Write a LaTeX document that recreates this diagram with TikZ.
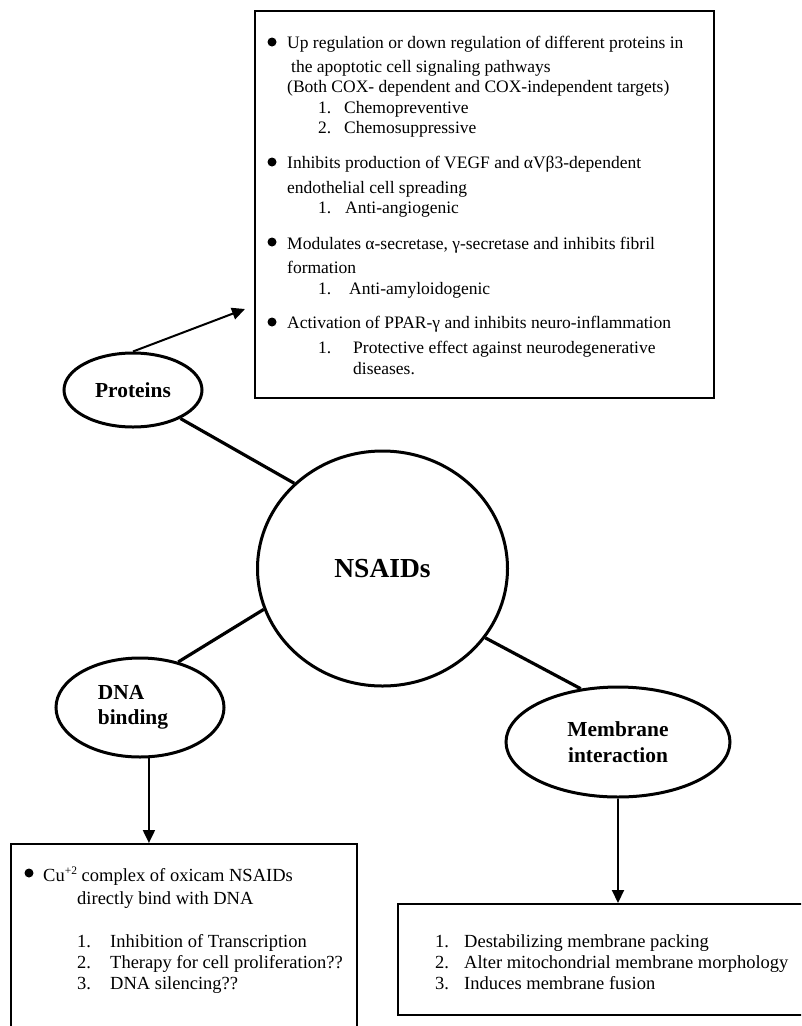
\documentclass[tikz,border=0pt]{standalone}
\usepackage{fontspec}
\setmainfont{Liberation Serif}
\usetikzlibrary{arrows.meta,shapes.geometric}
\begin{document}
\begin{tikzpicture}[x=1pt,y=-1pt,
  conn/.style={line width=3.2pt},
  arr/.style={line width=2pt,-{Triangle[width=12pt,length=13pt]}},
  bubble/.style={draw,ellipse,line width=3pt,inner sep=0pt,align=center,
    font=\bfseries\fontsize{21.4}{25.5}\selectfont},
  box/.style={draw,rectangle,line width=1.8pt,inner sep=0pt},
  txt/.style={anchor=base west,inner sep=0pt,font=\fontsize{17.5}{21}\selectfont},
  btxt/.style={anchor=base west,inner sep=0pt,font=\fontsize{18.5}{21}\selectfont},
  dot/.style={circle,fill,inner sep=0pt,minimum size=9pt}]
\useasboundingbox (0,0) rectangle (801,1026);
\clip (0,0) rectangle (801,1026);

% boxes
\node[box,anchor=north west,minimum width=459pt,minimum height=387pt] (pbox) at (254,10) {};
\node[box,anchor=north west,minimum width=346pt,minimum height=190pt] (dbox) at (10,843) {};
\node[box,anchor=north west,minimum width=410pt,minimum height=111pt] (mbox) at (397,903) {};

% ellipses
\node[bubble,minimum width=250pt,minimum height=235pt,font=\bfseries\fontsize{27.5}{30}\selectfont] (ns) at (382.5,568.5) {NSAIDs};
\node[bubble,minimum width=138pt,minimum height=74pt] (prot) at (133,390) {Proteins};
\node[bubble,minimum width=168pt,minimum height=99pt,align=left] (dna) at (140,707.5) {DNA\\binding\hspace*{14pt}};
\node[bubble,minimum width=224pt,minimum height=110pt] (mem) at (618,742) {Membrane\\interaction};

% connectors
\draw[conn] (prot.-31) -- (ns.136);
\draw[conn] (dna.50) -- (ns.199);
\draw[conn] (ns.-34) -- (mem.125);
\coordinate (ptip) at (245,309);
\draw[arr] (prot.north) -- (ptip);
\draw[arr] (dna.-80) -- (dna.-80 |- dbox.north);
\draw[arr] (mem.south) -- (mem.south |- mbox.north);

% top box text
\node[dot] (b1) at (272,42) {};
\node[txt] (t1) at (287,48) {Up regulation or down regulation of different proteins in};
\node[txt] (t2) at (291,72) {the apoptotic cell signaling pathways};
\node[txt] (t3) at (287,92) {(Both COX- dependent and COX-independent targets)};
\node[txt] (t4n) at (318,113) {1.};
\node[txt] (t4) at (344,113) {Chemopreventive};
\node[txt] (t5n) at (318,133) {2.};
\node[txt] (t5) at (344,133) {Chemosuppressive};
\node[dot] (b2) at (272,162) {};
\node[txt] (t6) at (287,168) {Inhibits production of VEGF and αVβ3-dependent};
\node[txt] (t7) at (287,193) {endothelial cell spreading};
\node[txt] (t8n) at (318,213) {1.};
\node[txt] (t8) at (345,213) {Anti-angiogenic};
\node[dot] (b3) at (272,242) {};
\node[txt] (t9) at (287,249) {Modulates α-secretase, γ-secretase and inhibits fibril};
\node[txt] (t10) at (287,273) {formation};
\node[txt] (t11n) at (318,294) {1.};
\node[txt] (t11) at (349,294) {Anti-amyloidogenic};
\node[dot] (b4) at (272,322) {};
\node[txt] (t12) at (287,328) {Activation of PPAR-γ and inhibits neuro-inflammation};
\node[txt] (t13n) at (318,353) {1.};
\node[txt] (t13) at (353,353) {Protective effect against neurodegenerative};
\node[txt] (t14) at (353,374) {diseases.};

% DNA box text
\node[dot] (b5) at (29,873) {};
\node[btxt] (d1) at (43,881) {Cu\raisebox{7pt}{\fontsize{11.5}{11.5}\selectfont +2} complex of oxicam NSAIDs};
\node[btxt] (d2) at (77,904) {directly bind with DNA};
\node[btxt] (d3n) at (77,947) {1.};
\node[btxt] (d3) at (110,947) {Inhibition of Transcription};
\node[btxt] (d4n) at (77,968) {2.};
\node[btxt] (d4) at (110,968) {Therapy for cell proliferation??};
\node[btxt] (d5n) at (77,989) {3.};
\node[btxt] (d5) at (110,989) {DNA silencing??};

% membrane box text
\node[btxt] (m1n) at (435,947) {1.};
\node[btxt] (m1) at (464,947) {Destabilizing membrane packing};
\node[btxt] (m2n) at (435,968) {2.};
\node[btxt] (m2) at (464,968) {Alter mitochondrial membrane morphology};
\node[btxt] (m3n) at (435,989) {3.};
\node[btxt] (m3) at (464,989) {Induces membrane fusion};
\end{tikzpicture}
\end{document}
